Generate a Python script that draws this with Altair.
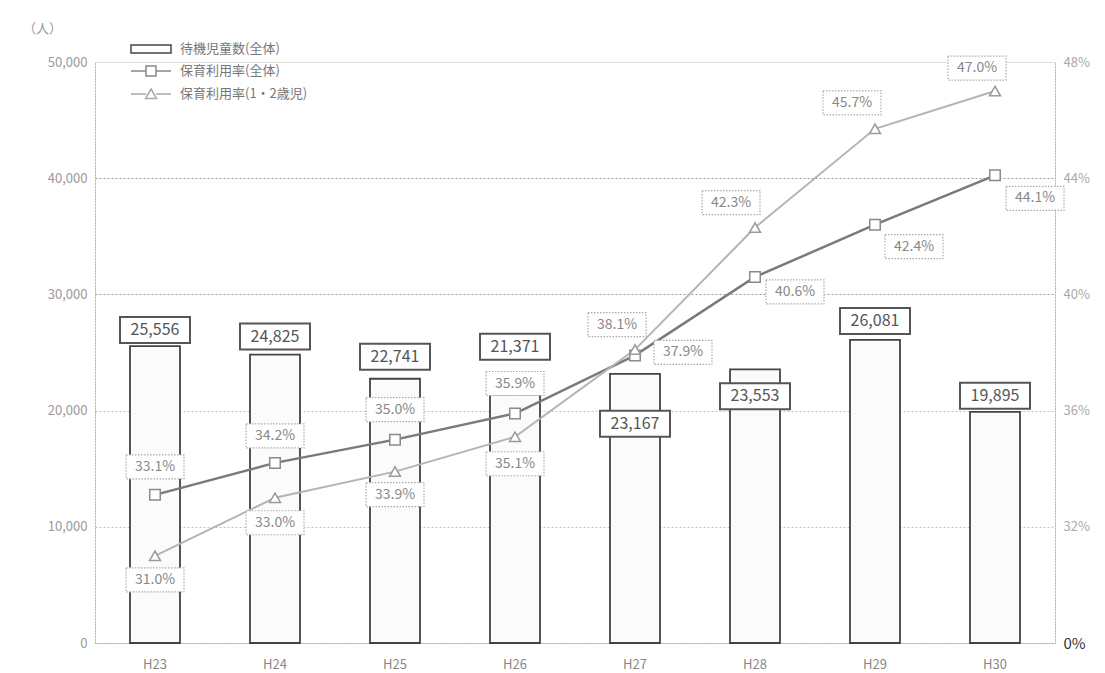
import altair as alt
import pandas as pd

FONT = "Noto Sans CJK JP"

years = ["H23", "H24", "H25", "H26", "H27", "H28", "H29", "H30"]
waiting = [25556, 24825, 22741, 21371, 23167, 23553, 26081, 19895]   # 待機児童数(全体)
rate_all = [33.1, 34.2, 35.0, 35.9, 37.9, 40.6, 42.4, 44.1]          # 保育利用率(全体) %
rate_12 = [31.0, 33.0, 33.9, 35.1, 38.1, 42.3, 45.7, 47.0]           # 保育利用率(1・2歳児) %

series = ["待機児童数(全体)", "保育利用率(全体)", "保育利用率(1・2歳児)"]

# pixel offsets of the value labels from their marks
count_dy = [-16, -18, -22, -48, 50, 27, -19, -16]
all_dx = [0, 0, 0, 0, 48, 40, 39, 40]
all_dy = [-28, -27, -30, -30, -3, 15, 22, 23]
r12_dx = [0, 0, 0, 0, -18, -24, -23, -18]
r12_dy = [24, 25, 23, 27, -25, -25, -26, -23]

W, H = 960, 581
COUNT_MAX = 50000
RATE_MIN, RATE_MAX = 28, 48
BAND = W / len(years)

bars_df = pd.DataFrame({
    "year": years,
    "count": waiting,
    "label": [f"{v:,}" for v in waiting],
    "dy": count_dy,
})

rates_df = pd.DataFrame({
    "year": years * 2,
    "series": [series[1]] * len(years) + [series[2]] * len(years),
    "rate": rate_all + rate_12,
    "label": [f"{v:.1f}%" for v in rate_all + rate_12],
    "dx": all_dx + r12_dx,
    "dy": all_dy + r12_dy,
})

legend_df = pd.DataFrame({"series": series})

x_enc = alt.X(
    "year:N", sort=years,
    scale=alt.Scale(domain=years, paddingInner=0, paddingOuter=0),
    axis=alt.Axis(title=None, labelAngle=0, ticks=False, domainColor="#999",
                  domainDash=[1, 2], labelColor="#888", labelFontSize=13,
                  labelPadding=15, labelFont=FONT),
)

left_axis = alt.Axis(
    values=[0, 10000, 20000, 30000, 40000, 50000],
    labelExpr="format(datum.value, ',')",
    title="（人）", titleAngle=0, titleX=-53, titleY=-34, titleAlign="center",
    titleBaseline="middle", titleColor="#999", titleFontSize=13,
    titleFontWeight="normal", titleFont=FONT,
    labelColor="#999", labelFontSize=13, labelPadding=8, labelFont=FONT,
    ticks=False, domainDash=[1, 2], domainColor="#999",
    grid=True, gridDash=[2, 2],
    gridColor={"condition": [
        {"test": "datum.value === 50000", "value": "transparent"},
        {"test": "datum.value >= 30000", "value": "#999"}],
        "value": "#c4c4c4"},
)
left_scale = alt.Scale(domain=[0, COUNT_MAX], nice=False)

right_axis = alt.Axis(
    orient="right", values=[28, 32, 36, 40, 44, 48], title=None,
    labelExpr="datum.value === 28 ? '0%' : datum.value + '%'",
    labelColor={"condition": {"test": "datum.value === 28", "value": "#333"},
                "value": "#aaa"},
    labelFontSize={"condition": {"test": "datum.value === 28", "value": 15},
                   "value": 13},
    labelFont=FONT, labelPadding=8, ticks=False,
    domainDash=[1, 2], domainColor="#999", grid=False,
)
right_scale = alt.Scale(domain=[RATE_MIN, RATE_MAX], nice=False, zero=False)

y_count = alt.Y("count:Q", scale=left_scale, axis=left_axis)
y_count_lab = alt.Y("count_lab:Q", scale=left_scale, axis=left_axis)
y_rate = alt.Y("rate:Q", scale=right_scale, axis=right_axis)
y_rate_lab = alt.Y("rate_lab:Q", scale=right_scale, axis=right_axis)

# bars and count labels (left axis)
bars = alt.Chart(bars_df).mark_bar(
    width=50, fill="#fbfbfb", stroke="#444", strokeWidth=1.8
).encode(x=x_enc, y=y_count)

count_base = alt.Chart(bars_df).transform_calculate(
    count_lab=f"datum.count - datum.dy * {COUNT_MAX / H}"
)
count_box = count_base.mark_point(
    shape="M-35,-13H35V13H-35Z", size=4, filled=True, fill="white",
    stroke="#555", strokeWidth=2, opacity=1,
).encode(x=x_enc, y=y_count_lab)

count_text = count_base.mark_text(
    fontSize=16, color="#555", font=FONT, baseline="middle"
).encode(x=x_enc, y=y_count_lab, text="label:N")

left = alt.layer(bars, count_box, count_text)

# usage-rate lines (right axis)
rates = alt.Chart(rates_df)
line_all = rates.transform_filter(alt.datum.series == series[1]).mark_line(
    color="#7a7a7a", strokeWidth=2.5).encode(x=x_enc, y=y_rate)
line_12 = rates.transform_filter(alt.datum.series == series[2]).mark_line(
    color="#b4b4b4", strokeWidth=2).encode(x=x_enc, y=y_rate)
pts_all = rates.transform_filter(alt.datum.series == series[1]).mark_point(
    shape="square", size=110, filled=True, fill="white", stroke="#8a8a8a",
    strokeWidth=1.5, opacity=1).encode(x=x_enc, y=y_rate)
pts_12 = rates.transform_filter(alt.datum.series == series[2]).mark_point(
    shape="triangle-up", size=120, filled=True, fill="white", stroke="#9a9a9a",
    strokeWidth=1.5, opacity=1).encode(x=x_enc, y=y_rate)

rate_lab_base = rates.transform_calculate(
    rate_lab=f"datum.rate - datum.dy * {(RATE_MAX - RATE_MIN) / H}",
    xoff=f"datum.dx + {BAND / 2}",
)
rate_box = rate_lab_base.mark_point(
    shape="M-29,-12H29V12H-29Z", size=4, filled=True, fill="white",
    stroke="#aaa", strokeWidth=1.2, strokeDash=[1.5, 1.5], opacity=1,
).encode(x=x_enc, y=y_rate_lab, xOffset=alt.XOffset("xoff:Q", scale=None))

rate_text = rate_lab_base.mark_text(
    fontSize=14, color="#888", font=FONT, baseline="middle"
).encode(x=x_enc, y=y_rate_lab, xOffset=alt.XOffset("xoff:Q", scale=None),
         text="label:N")

# legend drawn from the series scale only
legend_paths = [
    "M-2,-0.4H2V0.4H-2Z",
    "M-2,0H-0.5M0.5,0H2M-0.5,-0.5H0.5V0.5H-0.5Z",
    "M-2,0H-0.5M0.5,0H2M0,-0.5L0.55,0.45H-0.55Z",
]
legend_cfg = alt.Legend(
    title=None, orient="none", legendX=45, legendY=-24, padding=0,
    symbolSize=400, symbolStrokeWidth=1.5, symbolFillColor="white",
    labelOffset=18, rowPadding=4, labelFont=FONT, labelFontSize=13,
    labelColor="#777",
)
legend_layer = alt.Chart(legend_df).transform_filter("false").mark_point(
    filled=False, opacity=1
).encode(
    shape=alt.Shape("series:N", scale=alt.Scale(domain=series, range=legend_paths),
                    legend=legend_cfg),
    stroke=alt.Stroke("series:N", scale=alt.Scale(domain=series,
                      range=["#444", "#888", "#aaa"]), legend=legend_cfg),
)

right = alt.layer(line_all, line_12, pts_all, pts_12, rate_box, rate_text, legend_layer)

chart = alt.layer(left, right).resolve_scale(y="independent").properties(
    width=W, height=H, autosize="none",
    padding={"left": 95, "top": 62, "right": 50, "bottom": 30},
).configure_view(stroke=None).configure(background="white")

chart.save("out.html", embed_options={"renderer": "svg", "actions": False})
